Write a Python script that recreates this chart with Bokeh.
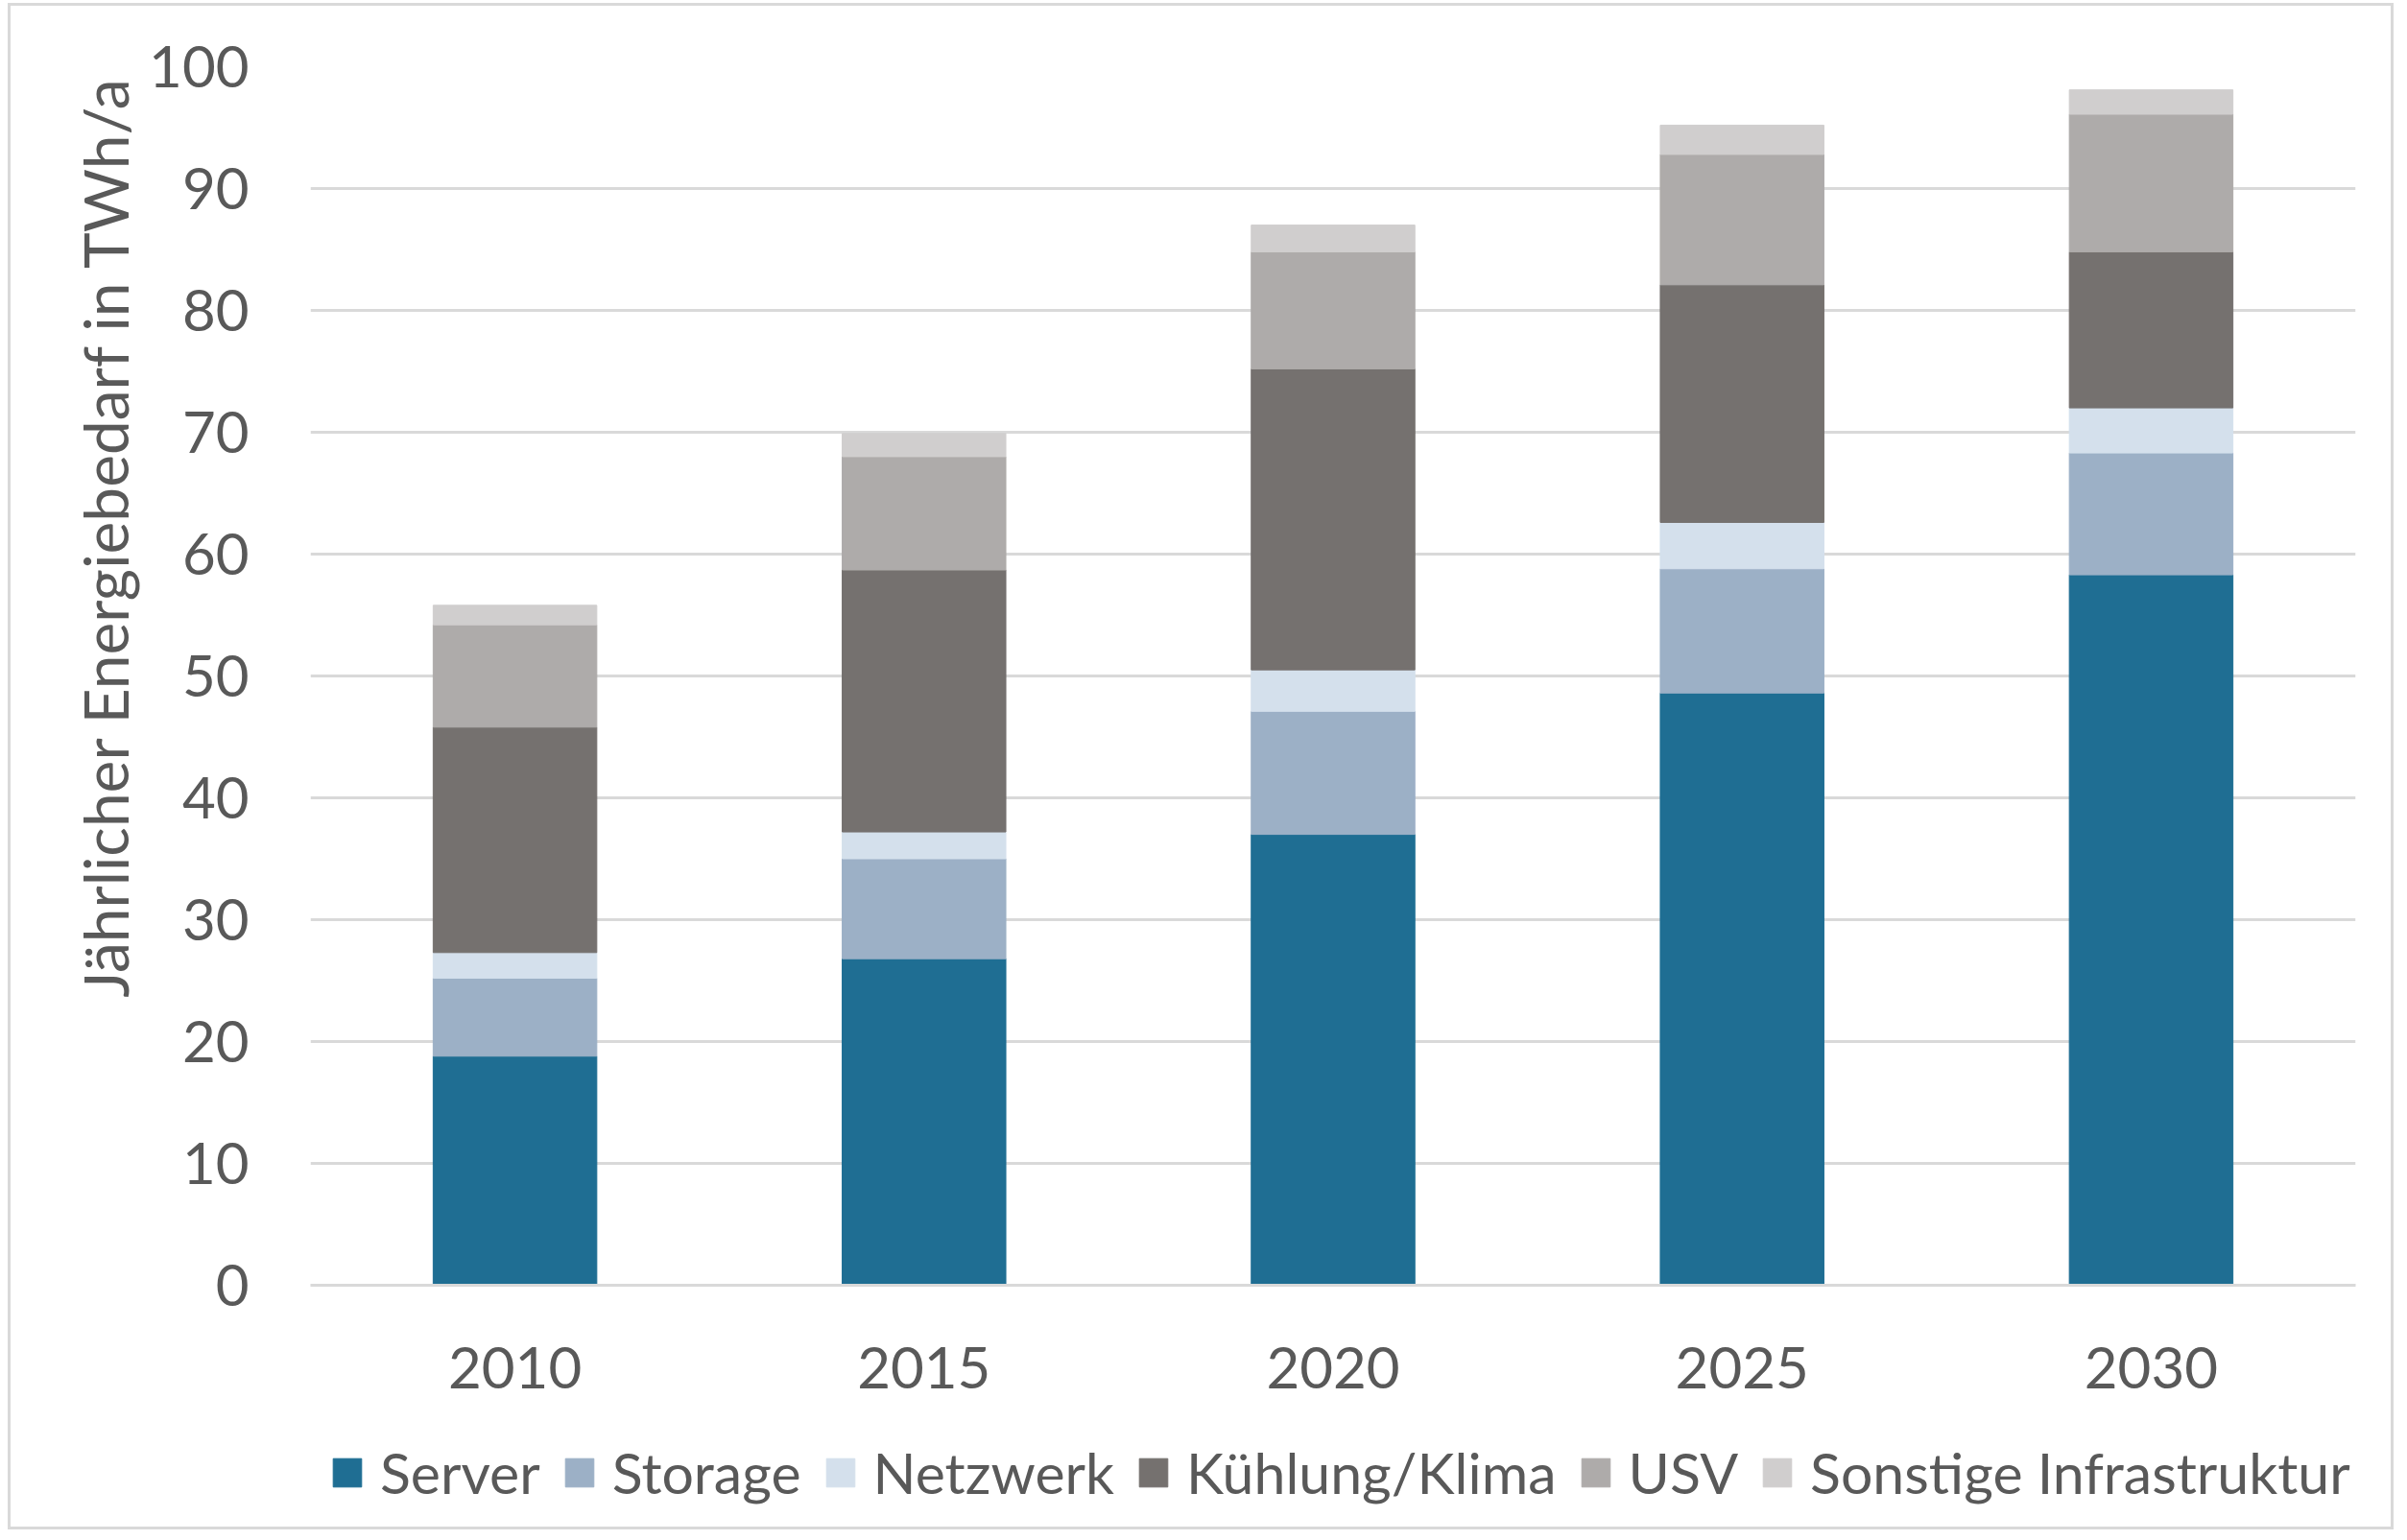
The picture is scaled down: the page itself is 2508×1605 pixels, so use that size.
import math
from bokeh.plotting import figure
from bokeh.layouts import column
from bokeh.models import (FactorRange, Range1d, FixedTicker, Legend, LegendItem, Title,
                          ColumnDataSource)
from bokeh.embed import file_html
from bokeh.resources import INLINE

years = ["2010", "2015", "2020", "2025", "2030"]
server = [18.8, 26.8, 37.0, 48.6, 58.3]
storage = [6.4, 8.2, 10.1, 10.2, 10.0]
netzwerk = [2.1, 2.2, 3.4, 3.8, 3.7]
kuehlung = [18.5, 21.5, 24.7, 19.5, 12.8]
usv = [8.4, 9.3, 9.6, 10.7, 11.3]
sonstige = [1.6, 1.9, 2.2, 2.4, 2.0]

series_names = ["Server", "Storage", "Netzwerk", "Kühlung/Klima", "USV", "Sonstige Infrastruktur"]
series_keys = ["server", "storage", "netzwerk", "kuehlung", "usv", "sonstige"]
colors = ["#1F6E93", "#9CB0C6", "#D4E0EC", "#75716F", "#AEABAA", "#D0CECE"]
y_ticks = [0, 10, 20, 30, 40, 50, 60, 70, 80, 90, 100]
y_label = "Jährlicher Energiebedarf  in TWh/a"

FONT = "Lato"
TXT = "#595959"

source = ColumnDataSource(dict(years=years, server=server, storage=storage, netzwerk=netzwerk,
                               kuehlung=kuehlung, usv=usv, sonstige=sonstige))

xr = FactorRange(*years, range_padding=0)
p = figure(x_range=xr, y_range=Range1d(0, 100),
           frame_width=2131, frame_height=1270,
           min_border_left=312, min_border_right=37, min_border_top=63, min_border_bottom=140,
           output_backend="svg", toolbar_location=None)
p.margin = (0, 0, 0, 0)
p.outline_line_color = None
p.background_fill_color = "white"
p.border_fill_color = "white"

rs = p.vbar_stack(series_keys, x="years", width=0.4, source=source, color=colors,
                  line_width=1)

p.yaxis.ticker = FixedTicker(ticks=y_ticks)
p.yaxis.axis_line_color = None
p.yaxis.major_tick_line_color = None
p.yaxis.minor_tick_line_color = None
p.yaxis.major_label_text_font = FONT
p.yaxis.major_label_text_font_size = "60px"
p.yaxis.major_label_text_color = TXT
p.yaxis.major_label_standoff = 58

p.xaxis.axis_line_color = "#d9d9d9"
p.xaxis.axis_line_width = 3
p.xaxis.major_tick_line_color = None
p.xaxis.minor_tick_line_color = None
p.xaxis.major_label_text_font = FONT
p.xaxis.major_label_text_font_size = "60px"
p.xaxis.major_label_text_color = TXT
p.xaxis.major_label_standoff = 58

p.xgrid.grid_line_color = None
p.ygrid.grid_line_color = "#d9d9d9"
p.ygrid.grid_line_width = 3

ytitle = Title(text=y_label, align="right", offset=-8, text_font=FONT,
               text_font_size="64px", text_font_style="normal", text_color=TXT,
               standoff=10)
p.add_layout(ytitle, "left")

# legend strip below the chart (its bars lie outside its visible y-range)
p2 = figure(width=2480, height=112, x_range=xr, y_range=Range1d(500, 600),
            x_axis_location=None, y_axis_location=None,
            min_border=0, output_backend="svg", toolbar_location=None)
p2.margin = (0, 0, 0, 0)
p2.outline_line_color = None
p2.grid.grid_line_color = None
p2.background_fill_color = "white"
p2.border_fill_color = "white"
rs2 = p2.vbar_stack(series_keys, x="years", width=0.4, source=source, color=colors,
                    line_width=1)

items = [LegendItem(label=n, renderers=[r]) for n, r in zip(series_names, rs2)]
legend = Legend(items=items, orientation="horizontal", location=(20, 21),
                glyph_width=37, glyph_height=37, label_standoff=16, spacing=22,
                label_text_font=FONT, label_text_font_size="59px", label_text_color=TXT,
                border_line_color=None, background_fill_alpha=0, padding=0, margin=0)
p2.add_layout(legend, "center")

layout = column(p, p2, spacing=0)
layout.margin = (3, 0, 0, 8)
layout.styles = {"border": "3px solid #d9d9d9", "background-color": "white"}

open("out.html", "w").write(file_html(layout, INLINE))
